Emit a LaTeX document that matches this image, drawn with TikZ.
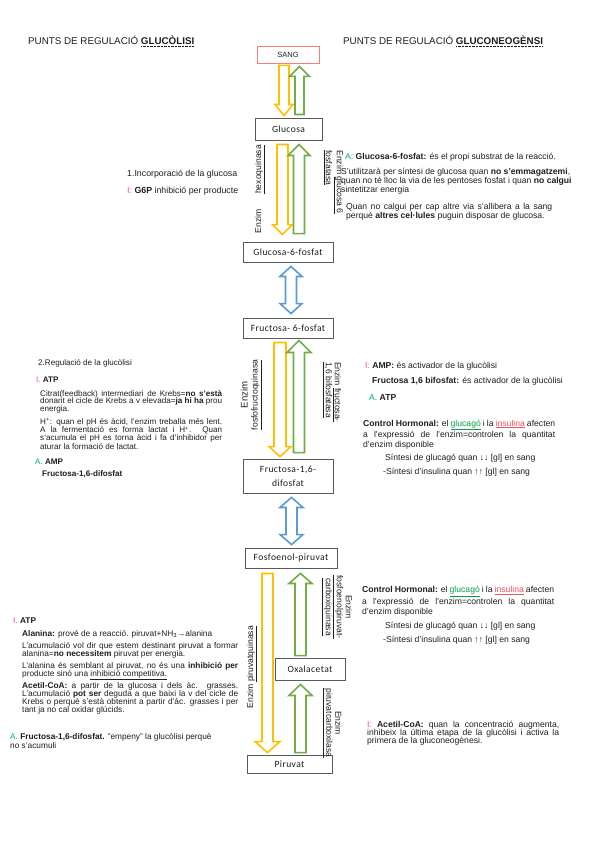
\documentclass[tikz,border=0pt]{standalone}
\usepackage{fontspec}
\setmainfont{Liberation Sans}
\newfontfamily\boxfont{Carlito}[LetterSpace=4]
\usetikzlibrary{calc}
\definecolor{txt}{HTML}{1E1E1E}
\definecolor{ired}{HTML}{F2505A}
\definecolor{agreen}{HTML}{00B050}
\definecolor{ulgreen}{HTML}{00A04A}
\definecolor{boxc}{HTML}{595959}
\definecolor{sangc}{HTML}{F47C7C}
\definecolor{yelc}{HTML}{FFC000}
\definecolor{grnc}{HTML}{70AD47}
\definecolor{bluc}{HTML}{5B9BD5}
\newcommand\uln[1]{\underline{#1}}
\newcommand\st{\rule{0pt}{1em}}
\newcommand\dotul[1]{\leavevmode\setbox0\hbox{#1}\rlap{\copy0}\raisebox{-2.2pt}{\hbox to \wd0{\leaders\hbox to 1.4pt{\hss\rule{0.7pt}{0.7pt}\hss}\hfill}}}
\newcommand\downblk[9]{\draw[#1] let \p1=(#3.south), \p2=(#5.north) in
 ({#2pt-#7pt},{\y1-#4pt}) -- ({#2pt+#7pt},{\y1-#4pt}) -- ({#2pt+#7pt},{\y2+#6pt+#9pt}) -- ({#2pt+#8pt},{\y2+#6pt+#9pt}) -- ({#2pt},{\y2+#6pt}) -- ({#2pt-#8pt},{\y2+#6pt+#9pt}) -- ({#2pt-#7pt},{\y2+#6pt+#9pt}) -- cycle;}
\newcommand\upblk[9]{\draw[#1] let \p1=(#3.south), \p2=(#5.north) in
 ({#2pt},{\y1-#4pt}) -- ({#2pt+#8pt},{\y1-#4pt-#9pt}) -- ({#2pt+#7pt},{\y1-#4pt-#9pt}) -- ({#2pt+#7pt},{\y2+#6pt}) -- ({#2pt-#7pt},{\y2+#6pt}) -- ({#2pt-#7pt},{\y1-#4pt-#9pt}) -- ({#2pt-#8pt},{\y1-#4pt-#9pt}) -- cycle;}
\newcommand\dblblk[9]{\draw[#1] let \p1=(#3.south), \p2=(#5.north) in
 ({#2pt},{\y1-#4pt}) -- ({#2pt+#8pt},{\y1-#4pt-#9pt}) -- ({#2pt+#7pt},{\y1-#4pt-#9pt}) -- ({#2pt+#7pt},{\y2+#6pt+#9pt}) -- ({#2pt+#8pt},{\y2+#6pt+#9pt}) -- ({#2pt},{\y2+#6pt}) -- ({#2pt-#8pt},{\y2+#6pt+#9pt}) -- ({#2pt-#7pt},{\y2+#6pt+#9pt}) -- ({#2pt-#7pt},{\y1-#4pt-#9pt}) -- ({#2pt-#8pt},{\y1-#4pt-#9pt}) -- cycle;}
\newcommand\R[1]{{\color{ired}#1}}
\newcommand\G[1]{{\color{agreen}#1}}
\begin{document}
\begin{tikzpicture}[x=1pt,y=-1pt,
 lbl/.style={inner sep=0pt, anchor=north west, font=\fontsize{8.6}{9}\selectfont, text=txt, align=left},
 jpar/.style={lbl, text width=#1, align=justify},
 lm/.style={font=\fontsize{8.1}{7.6}\selectfont},
 ll/.style={font=\fontsize{8.3}{8}\selectfont},
 head/.style={inner sep=0pt, anchor=base west, font=\fontsize{9.8}{11}\selectfont, text=txt},
 box/.style={draw=boxc, line width=0.9pt, inner sep=0pt, font=\boxfont\fontsize{9.6}{14}\selectfont, text=txt, fill=white, align=center},
 enz/.style={inner sep=0pt, font=\fontsize{8.6}{9}\selectfont, text=txt},
 yarr/.style={draw=yelc, line width=1.6pt, fill=white, line join=miter},
 garr/.style={draw=grnc, line width=1.6pt, fill=white, line join=miter},
 barr/.style={draw=bluc, line width=1.6pt, fill=white, line join=miter}]
\fill[white] (0,0) rectangle (599,848);
\useasboundingbox (0,0) rectangle (599,848);

% headings
\node[head] (h1) at (28,45) {PUNTS DE REGULACIÓ \dotul{\textbf{GLUCÒLISI}}};
\node[head] (h2) at (343,45) {PUNTS DE REGULACIÓ \dotul{\textbf{GLUCONEOGÈNSI}}};

% boxes
\node[box, draw=sangc, minimum width=62pt, minimum height=17pt, font=\fontsize{7.5}{9}\selectfont] (sang) at (288,54.5) {SANG};
\node[box, minimum width=67pt, minimum height=22pt] (gluc) at (288.5,129) {Glucosa};
\node[box, minimum width=90pt, minimum height=20pt] (g6p) at (288,252) {Glucosa-6-fosfat};
\node[box, minimum width=90pt, minimum height=20pt] (f6p) at (288,328) {Fructosa- 6-fosfat};
\node[box, minimum width=90pt, minimum height=34pt] (f16) at (288,476) {Fructosa-1,6-\\difosfat};
\node[box, minimum width=92pt, minimum height=20pt] (pep) at (291,558) {Fosfoenol-piruvat};
\node[box, minimum width=70pt, minimum height=22pt] (oxa) at (310,669) {Oxalacetat};
\node[box, minimum width=85pt, minimum height=18pt] (pir) at (289.5,764) {Piruvat};

% block arrows
\downblk{yarr}{284}{sang}{2}{gluc}{2}{5}{9}{11}
\upblk{garr}{299.5}{sang}{3}{gluc}{3}{4.5}{10}{10}
\downblk{yarr}{282.5}{gluc}{4}{g6p}{7}{5.5}{10}{10}
\upblk{garr}{299}{gluc}{4}{g6p}{8}{5.5}{11}{11}
\dblblk{barr}{291}{g6p}{4}{f6p}{4}{5.5}{11}{10}
\downblk{yarr}{280}{f6p}{4}{f16}{2}{6}{11}{10}
\upblk{garr}{299}{f6p}{2}{f16}{6}{5.5}{12}{12}
\dblblk{barr}{291.5}{f16}{4}{pep}{3}{5.5}{11.5}{10}
\downblk{yarr}{267.5}{pep}{5}{pir}{2}{5.5}{12.5}{11}
\upblk{garr}{300.5}{pep}{5}{oxa}{2}{5.5}{11.5}{10}
\upblk{garr}{300.5}{oxa}{4}{pir}{2}{5.5}{11.5}{11}

% enzyme labels
\node[enz, rotate=90, text width=88pt, align=justify] (e1) at (260,189) {Enzim \hfill \uln{hexoquinasa}};
\node[enz, rotate=-90, align=left] (e2) at (333.5,182) {Enzim \uln{glucosa 6}\\\uln{fosfatasa}};
\node[enz, rotate=90, align=center, font=\fontsize{8.6}{10}\selectfont] (e3) at (251,395) {{\fontsize{9.6}{10}\selectfont Enzim}\\\uln{fosfofructoquinasa}};
\node[enz, rotate=-90, align=left] (e4) at (332,392) {Enzim \uln{fructosa-}\\\uln{1,6 bifosfatasa}};
\node[enz, rotate=90] (e5) at (252,667) {Enzim \uln{piruvatquinasa}};
\node[enz, rotate=-90, align=center] (e6) at (337,607) {Enzim\\\uln{fosfoenolpiruvat-}\\\uln{carboxiquinasa}};
\node[enz, rotate=-90, align=center] (e7) at (332,723) {Enzim\\\uln{piruvatcarboxilasa}};

% left top
\node[lbl, font=\fontsize{8.8}{9}\selectfont] (t1) at (127,167.2) {\st1.Incorporació de la glucosa};
\node[lbl, font=\fontsize{8.8}{9}\selectfont] (t2) at (127,184.2) {\st\R{I:} \textbf{G6P} inhibició per producte};

% right top
\node[lbl] (t3) at (345,150.4) {\st\G{A:} \textbf{Glucosa-6-fosfat:} és el propi substrat de la reacció.};
\node[lbl] (t4) at (341,165.4) {\st S'utilitzarà per síntesi de glucosa quan \textbf{no s'emmagatzemi},\\quan no té lloc la via de les pentoses fosfat i quan \textbf{no calgui}\\sintetitzar energia};
\node[jpar=206pt] (t5) at (346,200.4) {\st Quan no calgui per cap altre via s'allibera a la sang\linebreak perquè \textbf{altres cel·lules} puguin disposar de glucosa.};

% left middle
\node[lbl, lm] (t6) at (38,357.4) {\st 2.Regulació de la glucòlisi};
\node[lbl, lm] (t7) at (36,373.9) {\st\R{I.} \textbf{ATP}};
\node[jpar=182pt, lm] (t8) at (40,387.9) {\st Citrat(feedback) intermediari de Krebs=\textbf{no s'està}\linebreak donant el cicle de Krebs a v elevada=\textbf{ja hi ha} prou\linebreak energia.};
\node[jpar=182pt, lm] (t9) at (40,415.9) {\st H\textsuperscript{+}: quan el pH és àcid, l'enzim treballa més lent.\linebreak A la fermentació es forma lactat i H\textsuperscript{+}. Quan\linebreak s'acumula el pH es torna àcid i fa d'inhibidor per\linebreak aturar la formació de lactat.};
\node[lbl, lm] (t10) at (35,456.4) {\st\G{A.} \textbf{AMP}};
\node[lbl, lm] (t11) at (42,468.4) {\st\textbf{Fructosa-1,6-difosfat}};

% right middle
\node[lbl] (t12) at (365,359.9) {\st\R{I:} \textbf{AMP:} és activador de la glucòlisi};
\node[lbl] (t13) at (372,374.4) {\st\textbf{Fructosa 1,6 bifosfat:} és activador de la glucòlisi};
\node[lbl] (t14) at (369,391.4) {\st\G{A.} \textbf{ATP}};
\node[jpar=192pt, font=\fontsize{8.6}{9.8}\selectfont] (t15) at (363,417.4) {\st\textbf{Control Hormonal:} el {\color{ulgreen}\uln{glucagó}} i la {\color{ired}\uln{insulina}} afecten\linebreak a l'expressió de l'enzim=controlen la quantitat\linebreak d'enzim disponible};
\node[lbl] (t16) at (385,451.4) {\st Síntesi de glucagó quan ↓↓ [gl] en sang};
\node[lbl] (t17) at (383,465.9) {\st -Síntesi d'insulina quan ↑↑ [gl] en sang};

% right lower
\node[jpar=192pt, font=\fontsize{8.6}{10}\selectfont] (t18) at (362,584.1) {\st\textbf{Control Hormonal:} el {\color{ulgreen}\uln{glucagó}} i la {\color{ired}\uln{insulina}} afecten\linebreak a l'expressió de l'enzim=controlen la quantitat\linebreak d'enzim disponible};
\node[lbl] (t19) at (385,619.9) {\st Síntesi de glucagó quan ↓↓ [gl] en sang};
\node[lbl] (t20) at (383,633.9) {\st -Síntesi d'insulina quan ↑↑ [gl] en sang};

% left lower
\node[lbl, ll] (t21) at (13,614.7) {\st\R{I.} \textbf{ATP}};
\node[lbl, ll] (t22) at (22,627.7) {\st\textbf{Alanina:} prové de a reacció. piruvat+NH\textsubscript{3}→alanina};
\node[jpar=216pt, ll] (t22b) at (22,639.7) {\st L'acumulació vol dir que estem destinant piruvat a formar\linebreak alanina=\textbf{no necessitem} piruvat per energia.};
\node[jpar=216pt, ll] (t23) at (22,659.7) {\st L'alanina és semblant al piruvat, no és una \textbf{inhibició per}\linebreak producte sinó una \uln{inhibició competitiva.}};
\node[jpar=216pt, ll] (t24) at (22,679.7) {\st\textbf{Acetil-CoA:} a partir de la glucosa i dels àc. grasses.\linebreak L'acumulació \textbf{pot ser} deguda a que baixi la v del cicle de\linebreak Krebs o perquè s'està obtenint a partir d'àc. grasses i per\linebreak tant ja no cal oxidar glúcids.};
\node[lbl, font=\fontsize{8.3}{9}\selectfont] (t25) at (10,730.7) {\st\G{A.} \textbf{Fructosa-1,6-difosfat.} "empeny" la glucòlisi perquè\\no s'acumuli};

% right bottom
\node[jpar=192pt, font=\fontsize{8.6}{8.2}\selectfont] (t26) at (367,718.4) {\st\R{I:} \textbf{Acetil-CoA:} quan la concentració augmenta,\linebreak inhibeix la última etapa de la glucòlisi i activa la\linebreak primera de la gluconeogènesi.};
\end{tikzpicture}
\end{document}
